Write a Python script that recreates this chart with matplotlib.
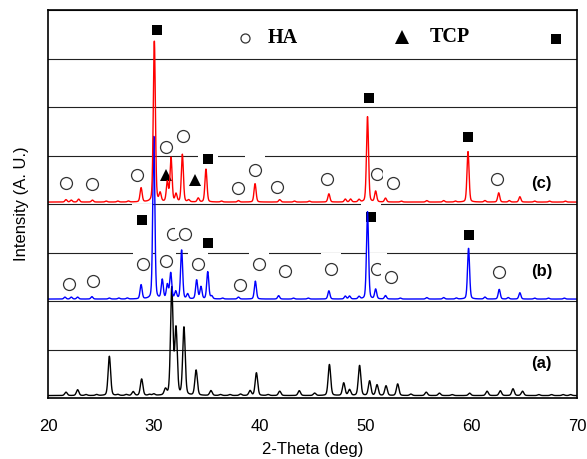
import numpy as np
import matplotlib
matplotlib.use("Agg")
import matplotlib.pyplot as plt
from matplotlib.path import Path

plt.rcParams['font.family'] = ['Liberation Sans', 'DejaVu Sans']

# ---------------- data: peak tables (2-theta, height above baseline) -------------
# (a) black pattern, baseline 0.05
a_pos = [21.7, 22.8, 23.6, 24.6, 25.8, 26.6, 27.4, 28.05, 28.85, 29.6, 30.0, 31.1, 31.7,
         32.1, 32.85, 34.0, 35.4, 36.3, 37.2, 38.2, 39.1, 39.7, 40.8, 41.9, 43.75,
         45.2, 46.6, 47.95, 48.5, 49.45, 50.4, 51.1, 51.95, 53.05, 54.3, 55.75, 57.0,
         58.2, 59.85, 61.5, 62.75, 63.95, 64.85, 66.4, 67.6, 68.7, 69.4]
a_h = [0.07, 0.12, 0.02, 0.02, 0.81, 0.02, 0.02, 0.08, 0.34, 0.02, 0.03, 0.12, 2.2,
       1.36, 1.4, 0.52, 0.1, 0.02, 0.02, 0.03, 0.1, 0.47, 0.02, 0.09, 0.1,
       0.05, 0.64, 0.26, 0.12, 0.62, 0.3, 0.22, 0.2, 0.24, 0.03, 0.07, 0.05,
       0.02, 0.05, 0.09, 0.1, 0.14, 0.09, 0.02, 0.02, 0.02, 0.02]
a_base = 0.05

# (b) blue pattern, baseline 2.04
b_pos = [21.6, 22.2, 22.8, 24.15, 25.8, 26.7, 27.5, 28.8, 30.0, 30.8, 31.28, 31.6,
         32.07, 32.63, 33.2, 34.05, 34.46, 35.1, 35.47, 36.5, 38.0, 39.6, 41.8, 43.2,
         44.6, 46.55, 48.1, 48.5, 49.4, 50.2, 50.97, 51.9, 53.3, 55.8, 57.4, 58.6,
         59.75, 61.3, 62.65, 63.5, 64.6, 66.0, 67.3, 68.8]
b_h = [0.04, 0.04, 0.04, 0.05, 0.02, 0.02, 0.02, 0.29, 3.35, 0.39, 0.29, 0.53,
       0.15, 1.01, 0.1, 0.39, 0.25, 0.56, 0.06, 0.02, 0.04, 0.37, 0.07, 0.02,
       0.02, 0.17, 0.06, 0.06, 0.05, 1.8, 0.2, 0.07, 0.02, 0.03, 0.03, 0.02,
       1.05, 0.04, 0.2, 0.03, 0.13, 0.02, 0.02, 0.02]
b_base = 2.04

# (c) red pattern, baseline 4.04
c_pos = [21.7, 22.2, 22.9, 24.2, 25.5, 26.6, 27.6, 28.8, 30.05, 30.6, 31.28, 31.63,
         32.1, 32.7, 33.3, 34.2, 34.93, 36.4, 38.0, 39.57, 41.9, 43.3, 44.7, 46.55,
         48.1, 48.6, 49.4, 50.2, 50.97, 51.9, 53.4, 55.8, 57.4, 58.5, 59.7, 61.3,
         62.6, 63.6, 64.6, 66.0, 67.4, 68.9]
c_h = [0.05, 0.04, 0.06, 0.04, 0.02, 0.02, 0.02, 0.29, 3.33, 0.17, 0.41, 0.91,
       0.16, 0.98, 0.04, 0.08, 0.68, 0.02, 0.03, 0.38, 0.05, 0.02, 0.02, 0.17,
       0.06, 0.06, 0.05, 1.76, 0.22, 0.08, 0.02, 0.03, 0.03, 0.02, 1.04, 0.03,
       0.19, 0.03, 0.11, 0.02, 0.02, 0.02]
c_base = 4.04

# phase markers: (2-theta, intensity level)
ha_b = [(22.01, 2.36), (24.29, 2.41), (29.0, 2.77), (31.15, 2.83), (31.85, 3.39),
        (32.98, 3.39), (34.21, 2.77), (38.15, 2.34), (39.94, 2.77), (42.4, 2.62),
        (46.72, 2.67), (51.13, 2.67), (52.39, 2.5), (62.66, 2.59)]
sq_b = [(28.85, 3.68), (35.15, 3.2), (50.53, 3.74), (59.8, 3.37)]
ha_c = [(21.67, 4.43), (24.13, 4.42), (28.44, 4.6), (31.15, 5.17), (32.8, 5.4),
        (37.99, 4.34), (39.57, 4.71), (41.67, 4.36), (46.34, 4.52), (51.13, 4.62),
        (52.58, 4.44), (62.41, 4.51)]
tcp_c = [(31.15, 4.6), (33.9, 4.5)]
sq_c = [(30.33, 7.58), (35.15, 4.93), (50.34, 6.18), (59.67, 5.38)]

labels = ['(a)', '(b)', '(c)']
label_y = [0.71, 2.6, 4.42]
xticks = [20, 30, 40, 50, 60, 70]


def pattern(x, pos, h, base, fwhm):
    y = np.full_like(x, base)
    for p, hh in zip(pos, h):
        g = np.exp(-4 * np.log(2) * ((x - p) / fwhm) ** 2)
        l = 1.0 / (1.0 + 4 * ((x - p) / fwhm) ** 2)
        y += hh * (0.75 * g + 0.25 * l)
    return y


x = np.arange(20.0, 70.0001, 0.02)

fig = plt.figure(figsize=(5.87, 4.59), dpi=100)
ax = fig.add_axes([48 / 587, (459 - 398) / 459, (577 - 48) / 587, (398 - 10) / 459])
ax.set_xlim(20, 70)
ax.set_ylim(0, 8)

# horizontal grid lines
ax.set_yticks(range(0, 9))
ax.set_yticklabels([])
ax.tick_params(axis='y', length=0)
ax.grid(axis='y', color='#222222', lw=0.8, zorder=0.5)
ax.set_axisbelow(True)

ax.set_xticks(xticks)
ax.set_xticklabels([str(t) for t in xticks], fontsize=12)
ax.tick_params(axis='x', length=0, pad=15)
for s in ax.spines.values():
    s.set_linewidth(1.2)

ax.plot(x, pattern(x, a_pos, a_h, a_base, 0.28), color='black', lw=1.0, zorder=2)
ax.plot(x, pattern(x, b_pos, b_h, b_base, 0.23), color='#0000ff', lw=1.0, zorder=2)
ax.plot(x, pattern(x, c_pos, c_h, c_base, 0.23), color='#ff0000', lw=1.0, zorder=2)

# white box behind each marker (hides grid lines like the original text boxes)
box = Path([(-10, -4), (10, -4), (10, 16), (-10, 16), (-10, -4)],
           [Path.MOVETO, Path.LINETO, Path.LINETO, Path.LINETO, Path.CLOSEPOLY])

items = ([(p, 'o') for p in ha_b] + [(p, 's') for p in sq_b] +
         [(p, 'o') for p in ha_c] + [(p, '^') for p in tcp_c] + [(p, 's') for p in sq_c])
items.sort(key=lambda t: (t[0][1] > 4, t[0][0]))
for i, ((px, py), m) in enumerate(items):
    z = 1 + i * 0.002
    ax.plot([px], [py], marker=box, ms=23.04, mfc='white', mec='none', mew=0,
            ls='none', zorder=z)
    if m == 'o':
        ax.plot([px], [py], marker='o', ms=8.6, mfc='white', mec='#333333', mew=0.9,
                ls='none', zorder=z + 0.001)
    elif m == 's':
        ax.plot([px], [py], marker='s', ms=7.2, mfc='black', mec='black', mew=0,
                ls='none', zorder=z + 0.001)
    else:
        ax.plot([px], [py], marker='^', ms=8.0, mfc='black', mec='black', mew=0,
                ls='none', zorder=z + 0.001)

# legend row
ax.plot([38.6], [7.43], marker='o', ms=6.5, mfc='white', mec='#333333', mew=0.9, ls='none')
ax.text(40.8, 7.43, 'HA', fontsize=14.5, fontweight='bold', family='Liberation Serif',
        ha='left', va='center')
ax.plot([53.5], [7.45], marker='^', ms=10, mfc='black', mec='black', mew=0, ls='none')
ax.text(56.1, 7.45, 'TCP', fontsize=14.5, fontweight='bold', family='Liberation Serif',
        ha='left', va='center')
ax.plot([68.0], [7.4], marker='s', ms=7.0, mfc='black', mec='black', mew=0, ls='none')

for lab, ly in zip(labels, label_y):
    ax.text(66.66, ly, lab, fontsize=12, fontweight='bold', ha='center', va='center', zorder=3)

ax.set_xlabel('2-Theta (deg)', fontsize=12, labelpad=6)
ax.set_ylabel('Intensity (A. U.)', fontsize=12, labelpad=10)

fig.savefig('out.png', dpi=100)
